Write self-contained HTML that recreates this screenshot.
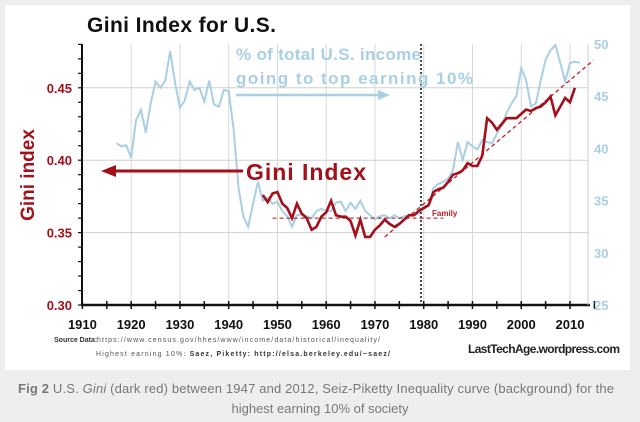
<!DOCTYPE html>
<html><head><meta charset="utf-8"><style>
body{margin:0;width:640px;height:422px;background:#eeeeee;overflow:hidden;font-family:"Liberation Sans",sans-serif}
svg{position:absolute;left:0;top:0}
</style></head><body>
<svg id="c" width="640" height="422" xmlns="http://www.w3.org/2000/svg">
<rect x="5" y="5" width="625" height="365" fill="#ffffff"/>
<g id="grid"></g>
<g id="axes"></g>
<g id="series"></g>
<text x="87" y="32" font-size="21" font-weight="bold" fill="#111" textLength="189">Gini Index for U.S.</text>
<text transform="translate(34,175) rotate(-90)" text-anchor="middle" font-size="19" font-weight="bold" fill="#a3101a">Gini index</text>
<text x="236" y="60" font-size="17" font-weight="bold" fill="#a9cfe3" textLength="185">% of total U.S. income</text>
<text x="236" y="84" font-size="17" font-weight="bold" fill="#a9cfe3" textLength="237">going to top earning 10%</text>
<g><line x1="236" y1="95" x2="380" y2="95" stroke="#a9cfe3" stroke-width="2.5"/><polygon points="390,95 378,90 378,100" fill="#a9cfe3"/></g>
<text x="246" y="180" font-size="23" font-weight="bold" fill="#a3101a" textLength="120">Gini Index</text>
<g><line x1="112" y1="171" x2="243" y2="171" stroke="#a3101a" stroke-width="3"/><polygon points="101,171 116,165 116,177" fill="#a3101a"/></g>
<text x="432" y="216" font-size="8" font-weight="bold" fill="#c0202a">Family</text>
<text x="54" y="342" font-size="7" fill="#333" font-weight="bold">Source Data:</text>
<text x="97" y="342" font-size="7" fill="#555" textLength="283">https://www.census.gov/hhes/www/income/data/historical/inequality/</text>
<text x="96" y="356" font-size="7" fill="#555" textLength="294">Highest earning 10%:   <tspan font-weight="bold" fill="#333">Saez, Piketty:   http://elsa.berkeley.edu/~saez/</tspan></text>
<text x="468" y="353" font-size="12" font-weight="bold" fill="#222" textLength="152">LastTechAge.wordpress.com</text>
<text x="18" y="393" font-size="13" fill="#777" textLength="596"><tspan font-weight="bold">Fig 2</tspan>  U.S. <tspan font-style="italic">Gini</tspan> (dark red) between 1947 and 2012, Seiz-Piketty Inequality curve (background) for the</text>
<text x="320" y="413" font-size="13" fill="#777" text-anchor="middle">highest earning 10% of society</text>
</svg>
<script>
const shareYears=[1917,1918,1919,1920,1921,1922,1923,1924,1925,1926,1927,1928,1929,1930,1931,1932,1933,1934,1935,1936,1937,1938,1939,1940,1941,1942,1943,1944,1945,1946,1947,1948,1949,1950,1951,1952,1953,1954,1955,1956,1957,1958,1959,1960,1961,1962,1963,1964,1965,1966,1967,1968,1969,1970,1971,1972,1973,1974,1975,1976,1977,1978,1979,1980,1981,1982,1983,1984,1985,1986,1987,1988,1989,1990,1991,1992,1993,1994,1995,1996,1997,1998,1999,2000,2001,2002,2003,2004,2005,2006,2007,2008,2009,2010,2011,2012];
const shareValues=[40.5,40.2,40.3,39.1,42.7,43.7,41.5,44.3,46.4,45.8,46.5,49.3,46.3,43.9,44.6,46.4,45.6,45.8,44.5,46.5,44.2,44.0,45.6,45.5,41.9,36.3,33.5,32.5,34.7,36.8,35.0,35.3,34.7,34.9,34.0,33.5,32.5,33.6,33.7,33.5,33.3,34.0,34.2,34.0,34.0,34.8,34.9,34.0,34.8,34.2,35.0,34.0,33.6,33.2,33.5,33.6,33.3,33.6,33.3,33.5,33.6,33.6,33.8,34.2,34.5,36.2,36.6,36.8,37.1,37.9,40.6,38.9,40.6,40.2,39.9,40.8,40.6,40.5,41.4,42.2,43.4,44.3,45.0,47.7,46.5,44.0,44.3,46.5,48.5,49.4,49.9,48.2,46.4,48.2,48.3,48.2];
const giniYears=[1947,1948,1949,1950,1951,1952,1953,1954,1955,1956,1957,1958,1959,1960,1961,1962,1963,1964,1965,1966,1967,1968,1969,1970,1971,1972,1973,1974,1975,1976,1977,1978,1979,1980,1981,1982,1983,1984,1985,1986,1987,1988,1989,1990,1991,1992,1993,1994,1995,1996,1997,1998,1999,2000,2001,2002,2003,2004,2005,2006,2007,2008,2009,2010,2011];
const giniValues=[0.376,0.371,0.377,0.378,0.370,0.367,0.360,0.370,0.363,0.360,0.352,0.354,0.361,0.364,0.372,0.362,0.361,0.361,0.358,0.348,0.359,0.347,0.347,0.352,0.355,0.359,0.356,0.354,0.356,0.359,0.362,0.362,0.365,0.367,0.369,0.378,0.380,0.381,0.385,0.390,0.391,0.393,0.398,0.396,0.396,0.403,0.429,0.426,0.421,0.425,0.429,0.429,0.429,0.432,0.435,0.434,0.436,0.437,0.440,0.444,0.431,0.437,0.443,0.440,0.450];
const xTicks=[1910,1920,1930,1940,1950,1960,1970,1980,1990,2000,2010];
const leftTicks=[0.30,0.35,0.40,0.45];
const rightTicks=[25,30,35,40,45,50];
const trendStart=[1972,0.347], trendEnd=[2014.8,0.469];
const familyLine=[1949,1984,0.360];

const X=y=>82.4+(y-1910)*4.876;
const YL=v=>305-(v-0.30)*1448;
const YR=v=>305-(v-25)*10.44;
const NS="http://www.w3.org/2000/svg";
function mk(parent,tag,attrs){const e=document.createElementNS(NS,tag);for(const k in attrs)e.setAttribute(k,attrs[k]);document.getElementById(parent).appendChild(e);return e;}
xTicks.forEach(t=>{if(t===1910)return;const l=mk('grid','line',{x1:X(t),x2:X(t),y1:44,y2:305,stroke:'#d8d8d8','stroke-width':1});

});
leftTicks.forEach(t=>{if(t===0.30)return;const l=mk('grid','line',{x1:82,x2:588,y1:YL(t),y2:YL(t),stroke:'#d0d0d0','stroke-width':1});

});
mk('axes','line',{x1:82,x2:82,y1:44,y2:306,stroke:'#111','stroke-width':2});
mk('axes','line',{x1:81,x2:590,y1:305,y2:305,stroke:'#111','stroke-width':2.5});
mk('axes','line',{x1:588,x2:588,y1:44,y2:305,stroke:'#ccc','stroke-width':1});
for(let v=0.30;v<=0.481;v+=0.01){mk('axes','line',{x1:78,x2:82,y1:YL(v),y2:YL(v),stroke:'#111','stroke-width':1.2});}
for(let y=1910;y<=2015;y+=5){mk('axes','line',{x1:X(y),x2:X(y),y1:301,y2:309,stroke:'#111','stroke-width':1.5});}
xTicks.forEach(t=>{const e=mk('axes','text',{x:X(t),y:329,'text-anchor':'middle','font-size':13,'font-weight':'bold',fill:'#111'});e.textContent=t;

});
leftTicks.forEach(t=>{const e=mk('axes','text',{x:72,y:YL(t)+5,'text-anchor':'end','font-size':13,'font-weight':'bold',fill:'#a3101a'});e.textContent=t.toFixed(2);

});
rightTicks.forEach(t=>{const e=mk('axes','text',{x:594,y:YR(t)+5,'font-size':13,'font-weight':'bold',fill:'#a9cfe3'});e.textContent=t;

});
const sp=mk('series','polyline',{points:shareYears.map((y,i)=>X(y)+','+YR(shareValues[i])).join(' '),fill:'none',stroke:'#a9cfe3','stroke-width':2});


const d1=mk('series','line',{x1:421,x2:421,y1:44,y2:305,stroke:'#111','stroke-width':1.5,'stroke-dasharray':'2,2'});


const fl=mk('series','line',{x1:X(familyLine[0]),x2:X(familyLine[1]),y1:YL(familyLine[2]),y2:YL(familyLine[2]),stroke:'#a3101a','stroke-width':1,'stroke-dasharray':'4,3'});


const tl=mk('series','line',{x1:X(trendStart[0]),y1:YL(trendStart[1]),x2:X(trendEnd[0]),y2:YL(trendEnd[1]),stroke:'#c0202a','stroke-width':1.3,'stroke-dasharray':'4,3'});


const gp=mk('series','polyline',{points:giniYears.map((y,i)=>X(y)+','+YL(giniValues[i])).join(' '),fill:'none',stroke:'#a3101a','stroke-width':2.6});


</script>
</body></html>
